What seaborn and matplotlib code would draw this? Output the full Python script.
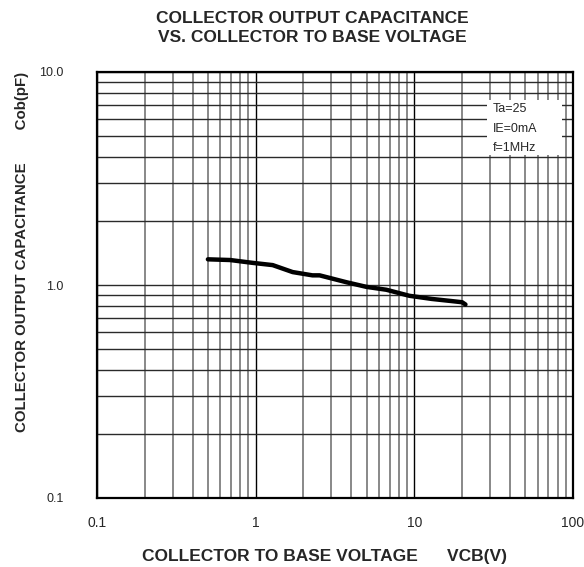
import matplotlib
matplotlib.use("Agg")
import matplotlib.pyplot as plt
import matplotlib.ticker as mticker
from matplotlib.patches import Rectangle
import numpy as np
import pandas as pd
import seaborn as sns

# ---- data ----
vcb = [0.5, 0.69, 0.96, 1.28, 1.71, 2.28, 2.53, 3.74, 4.99, 6.66, 9.3, 12.9, 17.3, 20.0, 21.0]
cob = [1.32, 1.31, 1.27, 1.24, 1.15, 1.11, 1.11, 1.03, 0.98, 0.95, 0.89, 0.86, 0.84, 0.83, 0.81]

x_ticks = [0.1, 1, 10, 100]
x_tick_labels = ["0.1", "1", "10", "100"]
y_ticks = [0.1, 1, 10]
y_tick_labels = ["0.1", "1.0", "10.0"]

title_text = "COLLECTOR OUTPUT CAPACITANCE\nVS. COLLECTOR TO BASE VOLTAGE"
x_label = "COLLECTOR TO BASE VOLTAGE      VCB(V)"
y_label = "COLLECTOR OUTPUT CAPACITANCE        Cob(pF)"
cond_lines = ["Ta=25", "IE=0mA", "f=1MHz"]

sns.set_style("white")
plt.rcParams["font.family"] = ["Liberation Sans", "DejaVu Sans"]

df = pd.DataFrame({"VCB": vcb, "Cob": cob})

fig = plt.figure(figsize=(5.84, 5.67), dpi=100)
ax = fig.add_axes([97 / 584, 1 - 498 / 567, 476 / 584, 426 / 567])

ax.set_xscale("log")
ax.set_yscale("log")
ax.set_xlim(0.1, 100)
ax.set_ylim(0.1, 10)

ax.xaxis.set_major_locator(mticker.FixedLocator(x_ticks))
ax.xaxis.set_major_formatter(mticker.FixedFormatter(x_tick_labels))
ax.yaxis.set_major_locator(mticker.FixedLocator(y_ticks))
ax.yaxis.set_major_formatter(mticker.FixedFormatter(y_tick_labels))
ax.xaxis.set_minor_locator(mticker.LogLocator(base=10, subs=np.arange(2, 10)))
ax.yaxis.set_minor_locator(mticker.LogLocator(base=10, subs=np.arange(2, 10)))
ax.xaxis.set_minor_formatter(mticker.NullFormatter())
ax.yaxis.set_minor_formatter(mticker.NullFormatter())

# grid
ax.grid(True, which="major", axis="x", color="black", lw=1.0)
ax.grid(True, which="minor", axis="x", color="#7f7f7f", lw=1.3)
ax.grid(True, which="both", axis="y", color="#2a2a2a", lw=1.0)
ax.set_axisbelow(True)

ax.tick_params(which="both", length=0)
ax.tick_params(axis="x", pad=13, labelsize=10)
ax.tick_params(axis="y", pad=24, labelsize=9)

for s in ax.spines.values():
    s.set_color("black")
    s.set_linewidth(1.6)

# condition box
ax.add_patch(Rectangle((0.82, 0.805), 0.157, 0.129, transform=ax.transAxes,
                       facecolor="white", edgecolor="none", zorder=2.5))
for i, line in enumerate(cond_lines):
    ypix = 109 + i * 19.5
    ax.text(0.832, (498 - ypix) / 426, line, transform=ax.transAxes,
            fontsize=9, va="center", ha="left", zorder=3)

sns.lineplot(data=df, x="VCB", y="Cob", ax=ax, color="black", lw=3.2, zorder=4)

ax.set_xlabel("")
ax.set_ylabel("")
fig.text(325 / 584, 1 - 557 / 567, x_label, ha="center", va="center",
         fontsize=12.5, fontweight="bold")
fig.text(22 / 584, 1 - 252 / 567, y_label, ha="center", va="center",
         rotation=90, fontsize=10.8, fontweight="bold")
fig.text(312 / 584, 1 - 28 / 567, title_text, ha="center", va="center",
         fontsize=12.5, fontweight="bold", linespacing=1.3)

fig.savefig("out.png", dpi=100)
